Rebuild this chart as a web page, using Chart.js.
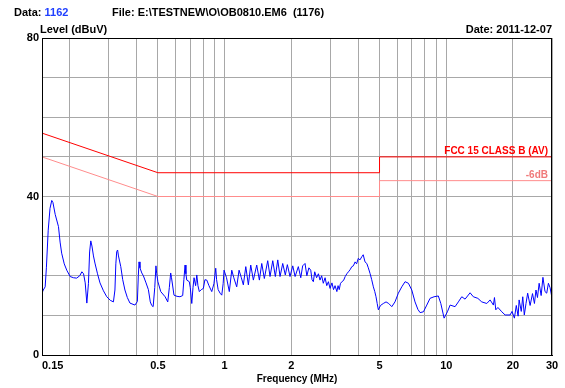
<!DOCTYPE html>
<html>
<head>
<meta charset="utf-8">
<script src="https://cdn.jsdelivr.net/npm/chart.js@4.4.1/dist/chart.umd.min.js"></script>
<style>
  html, body { margin: 0; padding: 0; background: #fff; }
  #wrap { width: 565px; height: 388px; position: relative; }
</style>
</head>
<body>
<div id="wrap"><canvas id="emi"></canvas></div>
<script>
/* Conducted emission scan, FCC 15 class B (AV) limit + 6 dB margin line. */

var FREQ = [
  0.150, 0.152, 0.155, 0.157, 0.160, 0.163, 0.166, 0.168, 0.172, 0.178,
  0.181, 0.184, 0.189, 0.194, 0.201, 0.208, 0.215, 0.222, 0.227, 0.231,
  0.235, 0.239, 0.243, 0.246, 0.249, 0.252, 0.256, 0.260, 0.267, 0.274,
  0.284, 0.294, 0.305, 0.315, 0.320, 0.323, 0.326, 0.329, 0.332, 0.340,
  0.347, 0.355, 0.364, 0.374, 0.394, 0.404, 0.408, 0.411, 0.415, 0.423,
  0.430, 0.442, 0.453, 0.462, 0.469, 0.476, 0.484, 0.490, 0.494, 0.500,
  0.515, 0.539, 0.554, 0.563, 0.571, 0.576, 0.591, 0.610, 0.629, 0.647,
  0.655, 0.663, 0.669, 0.675, 0.693, 0.700, 0.711, 0.720, 0.728, 0.740,
  0.749, 0.758, 0.769, 0.785, 0.802, 0.815, 0.831, 0.850, 0.875, 0.895,
  0.912, 0.920, 0.935, 0.954, 0.971, 0.985, 0.994, 1.02, 1.05, 1.077,
  1.10, 1.134, 1.162, 1.19, 1.215, 1.246, 1.28, 1.312, 1.348, 1.396,
  1.435, 1.471, 1.511, 1.565, 1.603, 1.649, 1.694, 1.737, 1.779, 1.829,
  1.879, 1.919, 1.973, 2.03, 2.08, 2.151, 2.206, 2.25, 2.306, 2.35,
  2.40, 2.447, 2.48, 2.514, 2.55, 2.60, 2.65, 2.694, 2.74, 2.788,
  2.84, 2.89, 2.94, 2.99, 3.05, 3.10, 3.15, 3.21, 3.25, 3.29,
  3.33, 3.38, 3.44, 3.50, 3.56, 3.62, 3.68, 3.75, 3.81, 3.88,
  3.94, 4.01, 4.08, 4.16, 4.22, 4.30, 4.38, 4.45, 4.53, 4.61,
  4.69, 4.76, 4.82, 4.88, 4.94, 5.05, 5.20, 5.35, 5.50, 5.68,
  5.87, 6.08, 6.30, 6.52, 6.75, 6.99, 7.23, 7.45, 7.62, 7.89,
  8.17, 8.45, 8.81, 9.21, 9.45, 9.78, 10.12, 10.41, 10.96, 11.34,
  11.75, 12.16, 12.81, 13.25, 13.88, 14.46, 15.24, 15.77, 16.32, 16.5,
  16.73, 17.1, 17.81, 18.43, 19.41, 19.8, 20.3, 20.7, 21.1, 21.32,
  21.8, 22.14, 22.5, 22.9, 23.3, 23.9, 24.5, 25.0, 25.4, 25.8,
  26.25, 26.8, 27.3, 27.9, 28.4, 28.9, 29.4, 29.94
];
var LEVEL = [
  15.6, 16.4, 17.2, 22.0, 31.5, 37.0, 39.0, 38.5, 35.5, 32.4,
  28.5, 25.7, 23.0, 21.4, 19.8, 19.5, 19.4, 20.0, 21.0, 20.5,
  18.2, 13.1, 18.0, 26.0, 28.8, 27.5, 25.0, 23.2, 20.5, 18.2,
  16.2, 14.7, 13.8, 13.4, 16.4, 23.0, 26.1, 26.5, 25.0, 22.3,
  19.0, 16.4, 14.5, 13.1, 12.6, 13.5, 20.0, 23.5, 22.0, 20.7,
  20.0, 18.2, 16.5, 13.4, 12.5, 12.2, 17.0, 22.5, 20.5, 18.5,
  16.0, 14.7, 13.4, 17.0, 20.7, 19.5, 15.1, 14.8, 14.7, 15.0,
  19.0, 22.7, 20.5, 18.9, 18.5, 17.0, 13.0, 17.0, 19.5, 17.5,
  20.2, 17.5, 16.0, 16.5, 16.8, 19.0, 18.9, 17.5, 16.0, 18.0,
  21.9, 19.0, 16.5, 15.6, 15.1, 18.0, 21.4, 19.5, 16.0, 21.4,
  19.5, 17.2, 21.4, 19.5, 17.7, 22.3, 17.7, 22.7, 18.9, 22.7,
  18.9, 23.1, 19.3, 23.8, 19.8, 23.8, 19.8, 24.0, 19.8, 23.1,
  20.2, 22.8, 19.8, 22.5, 19.8, 22.3, 19.5, 22.5, 23.1, 20.0,
  22.0, 21.4, 19.0, 18.5, 21.0, 19.5, 20.5, 18.9, 20.0, 18.1,
  19.5, 17.5, 18.5, 16.8, 18.2, 16.5, 17.5, 16.0, 17.5, 16.5,
  18.0, 18.5, 18.8, 19.8, 20.5, 21.0, 21.5, 22.3, 22.5, 23.5,
  23.0, 24.4, 24.0, 24.8, 25.3, 23.5, 23.1, 22.0, 20.6, 19.0,
  17.2, 16.0, 14.7, 13.0, 11.4, 12.5, 13.0, 13.4, 13.0, 12.2,
  13.4, 15.6, 17.2, 18.5, 18.1, 16.4, 13.4, 11.5, 10.7, 10.9,
  12.6, 14.3, 14.7, 14.9, 13.0, 9.3, 10.9, 12.6, 12.2, 13.4,
  14.7, 14.1, 15.7, 14.7, 14.3, 13.4, 13.0, 13.9, 12.6, 14.5,
  11.4, 12.0, 10.9, 10.1, 10.1, 11.0, 9.3, 12.5, 9.8, 13.9,
  11.0, 14.7, 10.1, 13.0, 15.6, 12.5, 15.5, 13.0, 16.4, 14.5,
  18.1, 15.0, 19.6, 16.0, 15.6, 18.1, 17.0, 14.7
];

var LIMIT_FREQ = [0.15, 0.5, 5, 5, 30];
var LIMIT_AV = [56, 46, 46, 50, 50];
var LIMIT_6DB = [50, 40, 40, 44, 44];

var X_GRID = [0.15, 0.2, 0.3, 0.4, 0.5, 0.6, 0.7, 0.8, 0.9, 1, 2, 3, 4, 5, 6, 7, 8, 9, 10, 20, 30];
var X_LABELS = [0.15, 0.5, 1, 2, 5, 10, 20, 30];
var Y_LABELS = [0, 40, 80];

var DATA_NO = "1162";
var FILE_TEXT = "File: E:\\TESTNEW\\O\\OB0810.EM6  (1176)";
var DATE_TEXT = "Date: 2011-12-07";
var Y_TITLE = "Level (dBuV)";
var LIMIT_NAME = "FCC 15 CLASS B (AV)";
var MARGIN_NAME = "-6dB";

var FAM = "Arial, 'Liberation Sans', sans-serif";
var BLUE = "#0000ff";
var RED = "#ff0000";
var PINK = "#ff8c8c";
var GRID = "#a8a8a8";

Chart.defaults.font = { family: FAM, size: 11, weight: "bold" };
Chart.defaults.color = "#000";

function pts(xs, ys) {
  return xs.map(function (x, i) { return { x: x, y: ys[i] }; });
}

var decor = {
  id: "decor",
  afterDraw: function (chart) {
    var ctx = chart.ctx, a = chart.chartArea, ys = chart.scales.y;
    ctx.save();
    // plot frame
    ctx.strokeStyle = "#000";
    ctx.lineWidth = 1;
    ctx.strokeRect(Math.round(a.left) + 0.5, Math.round(a.top) + 0.5,
      Math.round(a.right - a.left) - 1, Math.round(a.bottom - a.top));

    ctx.font = "bold 11px " + FAM;
    ctx.textBaseline = "alphabetic";
    ctx.textAlign = "left";
    ctx.fillStyle = "#000";
    ctx.fillText("Data: ", 14, 16);
    var w = ctx.measureText("Data: ").width;
    ctx.fillStyle = "#1f3fff";
    ctx.fillText(DATA_NO, 14 + w, 16);
    ctx.fillStyle = "#000";
    ctx.fillText(FILE_TEXT, 112, 16);
    ctx.fillText(Y_TITLE, a.left - 2, a.top - 5);
    ctx.textAlign = "right";
    ctx.fillText(DATE_TEXT, a.right, a.top - 5);

    // limit line names
    ctx.font = "bold 10px " + FAM;
    ctx.fillStyle = RED;
    ctx.fillText(LIMIT_NAME, a.right - 4, ys.getPixelForValue(LIMIT_AV[LIMIT_AV.length - 1]) - 3);
    ctx.fillStyle = "#f07a7a";
    ctx.fillText(MARGIN_NAME, a.right - 4, ys.getPixelForValue(LIMIT_6DB[LIMIT_6DB.length - 1]) - 3);
    ctx.restore();
  }
};

new Chart(document.getElementById("emi"), {
  type: "line",
  data: {
    datasets: [
      { label: "Level", data: pts(FREQ, LEVEL), borderColor: BLUE, borderWidth: 1, pointRadius: 0, tension: 0 },
      { label: LIMIT_NAME, data: pts(LIMIT_FREQ, LIMIT_AV), borderColor: RED, borderWidth: 1, pointRadius: 0, tension: 0 },
      { label: MARGIN_NAME, data: pts(LIMIT_FREQ, LIMIT_6DB), borderColor: PINK, borderWidth: 1, pointRadius: 0, tension: 0 }
    ]
  },
  options: {
    responsive: true, maintainAspectRatio: false, animation: false,
    layout: { padding: { top: 38, right: 13, bottom: 3, left: 0 } },
    plugins: { legend: { display: false }, tooltip: { enabled: false } },
    scales: {
      x: {
        type: "logarithmic", min: 0.15, max: 30,
        afterBuildTicks: function (s) { s.ticks = X_GRID.map(function (v) { return { value: v }; }); },
        afterFit: function (s) { s.height = 30; },
        grid: { color: GRID, drawTicks: false },
        border: { color: "#000" },
        ticks: {
          autoSkip: false, maxRotation: 0, padding: 4,
          font: { size: 11, weight: "bold" },
          callback: function (v) {
            if (X_LABELS.indexOf(v) < 0) return "";
            return v === 0.15 ? "\u2007\u2007\u2007 0.15" : String(v);
          }
        },
        title: { display: true, text: "Frequency (MHz)", font: { size: 10, weight: "bold" }, padding: { top: 0, bottom: 0 } }
      },
      y: {
        min: 0, max: 80,
        afterFit: function (s) { s.width = 42; },
        grid: { color: GRID, drawTicks: false },
        border: { color: "#000" },
        ticks: {
          stepSize: 10, padding: 3,
          font: { size: 11, weight: "bold" },
          callback: function (v) { return Y_LABELS.indexOf(v) >= 0 ? String(v) : ""; }
        }
      }
    }
  },
  plugins: [decor]
});
</script>
</body>
</html>
